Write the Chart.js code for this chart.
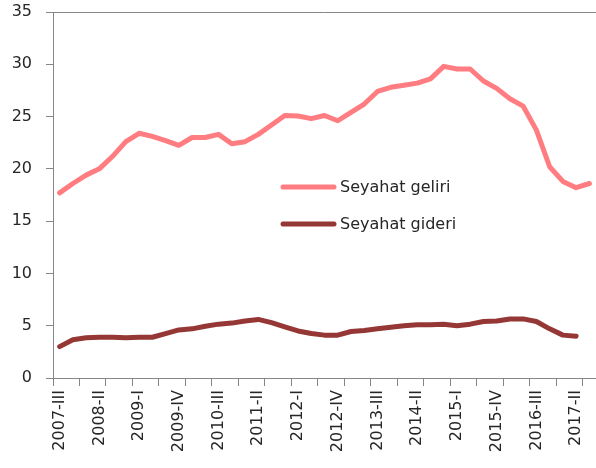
<!DOCTYPE html>
<html><head><meta charset="utf-8">
<script src="https://cdn.jsdelivr.net/npm/chart.js@4.4.0/dist/chart.umd.min.js"></script>
<style>html,body{margin:0;padding:0;background:#fff}#wrap{width:596px;height:468px}</style>
</head><body><div id="wrap"><canvas id="c" width="596" height="468"></canvas></div>
<script>
const categories = ["2007-III","2007-IV","2008-I","2008-II","2008-III","2008-IV","2009-I","2009-II","2009-III","2009-IV",
"2010-I","2010-II","2010-III","2010-IV","2011-I","2011-II","2011-III","2011-IV","2012-I","2012-II","2012-III","2012-IV",
"2013-I","2013-II","2013-III","2013-IV","2014-I","2014-II","2014-III","2014-IV","2015-I","2015-II","2015-III","2015-IV",
"2016-I","2016-II","2016-III","2016-IV","2017-I","2017-II","2017-III"];
const seyahatGeliri = [17.7,18.6,19.4,20.0,21.2,22.6,23.4,23.1,22.7,22.25,23.0,23.0,23.3,22.4,22.6,23.3,24.2,25.1,25.05,24.8,25.1,24.6,
25.4,26.2,27.4,27.8,28.0,28.2,28.6,29.8,29.55,29.55,28.4,27.7,26.7,26.0,23.7,20.2,18.8,18.2,18.6];
const seyahatGideri = [3.0,3.65,3.85,3.9,3.9,3.85,3.9,3.9,4.25,4.6,4.7,4.95,5.15,5.25,5.45,5.6,5.3,4.9,4.5,4.25,4.1,4.1,
4.45,4.55,4.7,4.85,5.0,5.1,5.1,5.15,5.0,5.15,5.4,5.45,5.65,5.65,5.4,4.7,4.1,4.0,null];
const yTicks = [0,5,10,15,20,25,30,35];

const FONT = "'DejaVu Sans'";
const AXIS = '#868686';
const TXT = '#262626';

const legendPlugin = {
  id: 'inlineLegend',
  afterDraw(chart) {
    const ctx = chart.ctx;
    const ds = chart.data.datasets;
    ctx.save();
    ds.forEach((d, i) => {
      const y = 187 + i * 37;
      ctx.strokeStyle = d.borderColor;
      ctx.lineWidth = 5;
      ctx.lineCap = 'round';
      ctx.beginPath(); ctx.moveTo(283, y); ctx.lineTo(334, y); ctx.stroke();
      ctx.fillStyle = TXT;
      ctx.font = '16px ' + FONT;
      ctx.textBaseline = 'middle';
      ctx.fillText(d.label, 340, y + 1);
    });
    ctx.restore();
  }
};
const borderPlugin = {
  id: 'topBorder',
  beforeDatasetsDraw(chart) {
    const {ctx, chartArea} = chart;
    ctx.save();
    ctx.strokeStyle = AXIS; ctx.lineWidth = 1;
    ctx.beginPath(); ctx.moveTo(chartArea.left, chartArea.top + 0.5); ctx.lineTo(chartArea.right, chartArea.top + 0.5); ctx.stroke();
    ctx.restore();
  }
};

new Chart(document.getElementById('c'), {
  type: 'line',
  data: {
    labels: categories,
    datasets: [
      {label: 'Seyahat geliri', data: seyahatGeliri, borderColor: '#FF7C80', backgroundColor: '#FF7C80', borderWidth: 5, pointRadius: 0, tension: 0, borderCapStyle: 'round', borderJoinStyle: 'round'},
      {label: 'Seyahat gideri', data: seyahatGideri, borderColor: '#953735', backgroundColor: '#953735', borderWidth: 5, pointRadius: 0, tension: 0, borderCapStyle: 'round', borderJoinStyle: 'round'}
    ]
  },
  options: {
    responsive: false,
    animation: false,
    layout: {padding: {top: 12, right: 0, left: 0, bottom: 0}},
    plugins: {legend: {display: false}, tooltip: {enabled: false}},
    scales: {
      x: {
        offset: true,
        afterFit(s) { s.height = 90; s.paddingLeft = 0; s.paddingRight = 0; },
        grid: {display: true, drawOnChartArea: false, offset: true, tickLength: 8,
          tickColor: (c) => (c.index % 2 === 0 ? AXIS : 'rgba(0,0,0,0)')},
        border: {display: true, color: AXIS, width: 1},
        ticks: {autoSkip: false, maxRotation: 90, minRotation: 90, padding: 4, color: TXT,
          font: {family: FONT, size: 16},
          callback: (v, i) => (i % 3 === 0 ? categories[i] : '')}
      },
      y: {
        min: 0, max: 35,
        afterFit(s) { s.width = 53; s.paddingTop = 0; s.paddingBottom = 0; },
        afterBuildTicks(s) { s.ticks = yTicks.map(v => ({value: v})); },
        grid: {display: true, drawOnChartArea: false, tickLength: 7, tickColor: AXIS},
        border: {display: true, color: AXIS, width: 1},
        ticks: {padding: 14, color: TXT, font: {family: FONT, size: 16}}
      }
    }
  },
  plugins: [legendPlugin, borderPlugin]
});
</script></body></html>
